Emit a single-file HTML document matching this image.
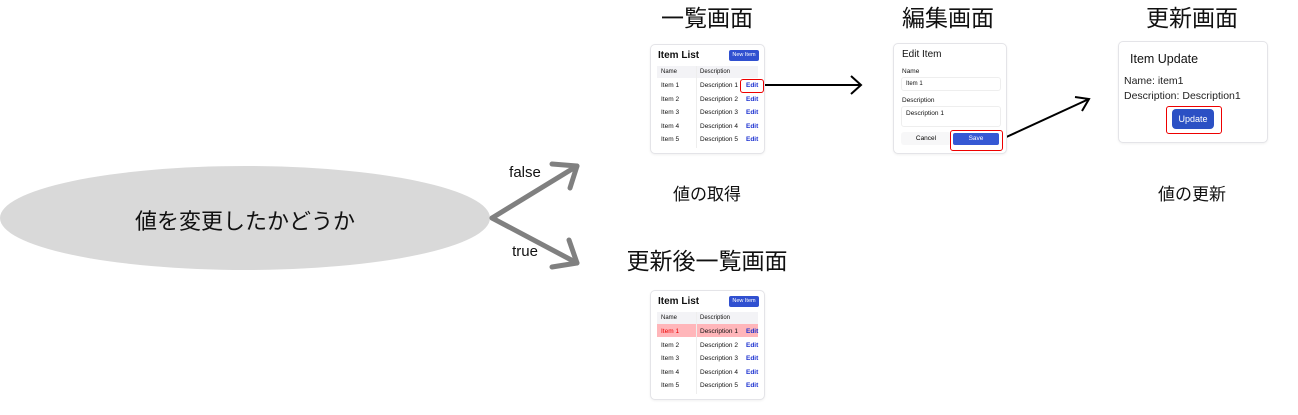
<!DOCTYPE html>
<html><head><meta charset="utf-8"><style>
body{margin:0;width:1298px;height:415px;background:#fff;position:relative;overflow:hidden;font-family:"Liberation Sans","Noto Sans CJK JP",sans-serif;}
.a{position:absolute;}
.t{position:absolute;transform:translateX(-50%);white-space:nowrap;color:#111;}
.card{position:absolute;border:1px solid #e4e4e8;border-radius:5px;background:#fff;box-shadow:0 1px 2px rgba(0,0,0,.06);}
.s{position:absolute;font-size:6.5px;color:#111;white-space:nowrap;}
.e{position:absolute;font-size:6.5px;color:#1a2fd0;font-weight:bold;}
</style></head><body>
<svg class="a" style="left:0;top:0" width="1298" height="415">
<ellipse cx="245" cy="218" rx="245" ry="52" fill="#d9d9d9"/>
<g stroke="#808080" stroke-width="5" fill="none" stroke-linecap="round" stroke-linejoin="round">
<polyline points="492,218 577,166"/><polyline points="552,164 577,166 570,188"/>
<polyline points="492,218 577,263"/><polyline points="552,267 577,263 569,240"/>
</g>
<g stroke="#000" stroke-width="2" fill="none">
<line x1="762" y1="85" x2="861" y2="85"/><polyline points="851,76 861,85 851,94"/>
<line x1="1002" y1="139" x2="1089" y2="99"/><polyline points="1075,97 1089,99 1082,111"/>
</g>
</svg>
<div class="t" style="left:245px;top:204px;font-size:22px">値を変更したかどうか</div>
<div class="t" style="left:525px;top:164px;font-size:15px">false</div>
<div class="t" style="left:525px;top:243px;font-size:15px">true</div>
<div class="t" style="left:707px;top:-1px;font-size:23px">一覧画面</div>
<div class="t" style="left:948px;top:-1px;font-size:23px">編集画面</div>
<div class="t" style="left:1192px;top:-1px;font-size:23px">更新画面</div>
<div class="t" style="left:707px;top:242px;font-size:23px">更新後一覧画面</div>
<div class="t" style="left:707px;top:180px;font-size:17px">値の取得</div>
<div class="t" style="left:1192px;top:180px;font-size:17px">値の更新</div>

<!-- list card 1 -->
<div class="card" style="left:650px;top:44px;width:113px;height:108px">
<div class="s" style="left:7px;top:5px;font-size:10px;font-weight:bold">Item List</div>
<div class="a" style="left:78px;top:5px;width:30px;height:11px;background:#3050d0;border-radius:2px;color:#fff;font-size:5.5px;text-align:center;line-height:11px">New Item</div>
<div class="a" style="left:6px;top:21px;width:101px;height:12px;background:#f3f3f6"></div>
<div class="a" style="left:45px;top:21px;width:1px;height:82px;background:#eee"></div>
<div class="s" style="left:10px;top:24px;font-size:6px">Name</div><div class="s" style="left:49px;top:24px;font-size:6px">Description</div>
<div class="s" style="left:10px;top:37px">Item 1</div><div class="s" style="left:49px;top:37px">Description 1</div><div class="e" style="left:95px;top:37px">Edit</div>
<div class="a" style="left:89px;top:34px;width:22px;height:12px;border:1px solid #e00;border-radius:3px"></div>
<div class="s" style="left:10px;top:51px">Item 2</div><div class="s" style="left:49px;top:51px">Description 2</div><div class="e" style="left:95px;top:51px">Edit</div>
<div class="s" style="left:10px;top:64px">Item 3</div><div class="s" style="left:49px;top:64px">Description 3</div><div class="e" style="left:95px;top:64px">Edit</div>
<div class="s" style="left:10px;top:78px">Item 4</div><div class="s" style="left:49px;top:78px">Description 4</div><div class="e" style="left:95px;top:78px">Edit</div>
<div class="s" style="left:10px;top:91px">Item 5</div><div class="s" style="left:49px;top:91px">Description 5</div><div class="e" style="left:95px;top:91px">Edit</div>
</div>

<!-- list card 2 -->
<div class="card" style="left:650px;top:290px;width:113px;height:108px">
<div class="s" style="left:7px;top:5px;font-size:10px;font-weight:bold">Item List</div>
<div class="a" style="left:78px;top:5px;width:30px;height:11px;background:#3050d0;border-radius:2px;color:#fff;font-size:5.5px;text-align:center;line-height:11px">New Item</div>
<div class="a" style="left:6px;top:21px;width:101px;height:12px;background:#f3f3f6"></div>
<div class="a" style="left:6px;top:33px;width:101px;height:13px;background:#ffb6ba"></div>
<div class="a" style="left:45px;top:21px;width:1px;height:82px;background:#eee"></div>
<div class="s" style="left:10px;top:24px;font-size:6px">Name</div><div class="s" style="left:49px;top:24px;font-size:6px">Description</div>
<div class="s" style="left:10px;top:37px;color:#e00">Item 1</div><div class="s" style="left:49px;top:37px">Description 1</div><div class="e" style="left:95px;top:37px">Edit</div>
<div class="s" style="left:10px;top:51px">Item 2</div><div class="s" style="left:49px;top:51px">Description 2</div><div class="e" style="left:95px;top:51px">Edit</div>
<div class="s" style="left:10px;top:64px">Item 3</div><div class="s" style="left:49px;top:64px">Description 3</div><div class="e" style="left:95px;top:64px">Edit</div>
<div class="s" style="left:10px;top:78px">Item 4</div><div class="s" style="left:49px;top:78px">Description 4</div><div class="e" style="left:95px;top:78px">Edit</div>
<div class="s" style="left:10px;top:91px">Item 5</div><div class="s" style="left:49px;top:91px">Description 5</div><div class="e" style="left:95px;top:91px">Edit</div>
</div>

<!-- edit card -->
<div class="card" style="left:893px;top:43px;width:112px;height:109px">
<div class="s" style="left:8px;top:5px;font-size:10px;font-weight:500">Edit Item</div>
<div class="s" style="left:8px;top:24px">Name</div>
<div class="a" style="left:7px;top:33px;width:98px;height:12px;border:1px solid #eee;border-radius:3px"></div>
<div class="s" style="left:12px;top:37px;font-size:6px">Item 1</div>
<div class="s" style="left:8px;top:53px">Description</div>
<div class="a" style="left:7px;top:62px;width:98px;height:19px;border:1px solid #eee;border-radius:3px"></div>
<div class="s" style="left:12px;top:66px">Description 1</div>
<div class="a" style="left:7px;top:88px;width:50px;height:13px;background:#f7f7f8;border-radius:3px;font-size:6.5px;text-align:center;line-height:13px">Cancel</div>
<div class="a" style="left:59px;top:89px;width:46px;height:12px;background:#3558d4;border-radius:2px;color:#fff;font-size:6.5px;text-align:center;line-height:12px">Save</div>
<div class="a" style="left:56px;top:86px;width:51px;height:19px;border:1px solid #e00;border-radius:3px"></div>
</div>

<!-- update card -->
<div class="card" style="left:1118px;top:41px;width:148px;height:100px">
<div class="s" style="left:11px;top:10px;font-size:12.5px">Item Update</div>
<div class="s" style="left:5px;top:33px;font-size:10.5px;color:#222">Name: item1</div>
<div class="s" style="left:5px;top:48px;font-size:10.5px;color:#222">Description: Description1</div>
<div class="a" style="left:47px;top:64px;width:54px;height:26px;border:1px solid #e00;border-radius:3px"></div>
<div class="a" style="left:53px;top:67px;width:42px;height:20px;background:#2b50c4;border-radius:4px;color:#fff;font-size:9px;text-align:center;line-height:20px">Update</div>
</div>
</body></html>
